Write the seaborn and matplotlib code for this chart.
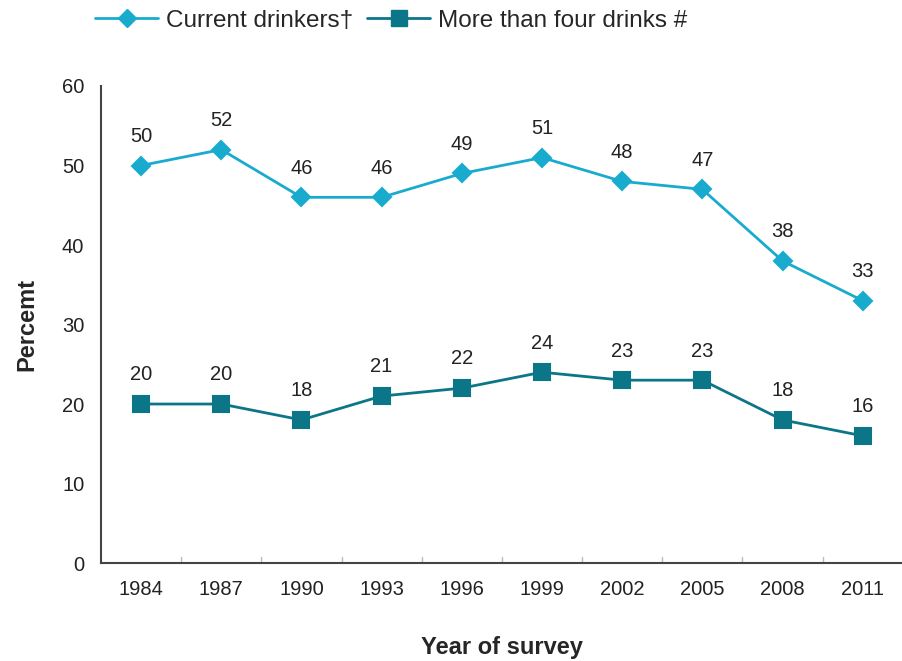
import matplotlib
matplotlib.use("Agg")
import matplotlib.pyplot as plt
import seaborn as sns
import pandas as pd
from matplotlib.lines import Line2D

years = ["1984", "1987", "1990", "1993", "1996", "1999", "2002", "2005", "2008", "2011"]
current_drinkers = [50, 52, 46, 46, 49, 51, 48, 47, 38, 33]
more_than_four = [20, 20, 18, 21, 22, 24, 23, 23, 18, 16]
series_names = ["Current drinkers\u2020", "More than four drinks #"]

df = pd.DataFrame({
    "year": years * 2,
    "value": current_drinkers + more_than_four,
    "series": [series_names[0]] * len(years) + [series_names[1]] * len(years),
})

sns.set_style("white")
plt.rcParams["font.family"] = ["Liberation Sans", "DejaVu Sans"]

colors = ["#19ABCD", "#0C7689"]

fig = plt.figure(figsize=(9.03, 6.61), dpi=100)
ax = fig.add_axes([0.1118, 0.1482, 0.888, 0.7217])

sns.pointplot(data=df, x="year", y="value", hue="series", palette=colors,
              markers=["D", "s"], linestyles=["-", "-"], ax=ax,
              markersize=9, linewidth=2, legend=False, errorbar=None)

for line in ax.lines:
    if line.get_marker() == "s":
        line.set_markersize(11)

ax.set_ylim(0, 60)
ax.set_xlim(-0.5, 9.5)
ax.set_yticks([0, 10, 20, 30, 40, 50, 60])
ax.tick_params(axis="y", direction="in", length=6, color="#BBBBBB", labelsize=14.5, pad=12, labelcolor="#222222")
ax.tick_params(axis="x", length=0, labelsize=14.5, pad=12, labelcolor="#222222")
for x in [i + 0.5 for i in range(9)]:
    ax.plot([x, x], [0, 0.8], color="#BBBBBB", lw=1, clip_on=False)

for s in ["top", "right"]:
    ax.spines[s].set_visible(False)
for s in ["left", "bottom"]:
    ax.spines[s].set_color("#444444")
    ax.spines[s].set_linewidth(1.5)

ax.set_xlabel("Year of survey", fontsize=17, fontweight="bold", labelpad=27)
ax.set_ylabel("Percemt", fontsize=17, fontweight="bold", labelpad=17)

for vals in (current_drinkers, more_than_four):
    for i, v in enumerate(vals):
        ax.annotate(str(v), (i, v), xytext=(0, 21), textcoords="offset points",
                    ha="center", va="center", fontsize=14.5, color="#222222")

handles = [
    Line2D([], [], color=colors[0], marker="D", markersize=9, lw=2),
    Line2D([], [], color=colors[1], marker="s", markersize=11, lw=2),
]
fig.legend(handles, series_names, loc="upper left", bbox_to_anchor=(0.081, 1.018),
           ncol=2, frameon=False, fontsize=17.5, handlelength=2.6, columnspacing=0.6,
           handletextpad=0.3, borderpad=0.4)

fig.savefig("out.png", dpi=100)
